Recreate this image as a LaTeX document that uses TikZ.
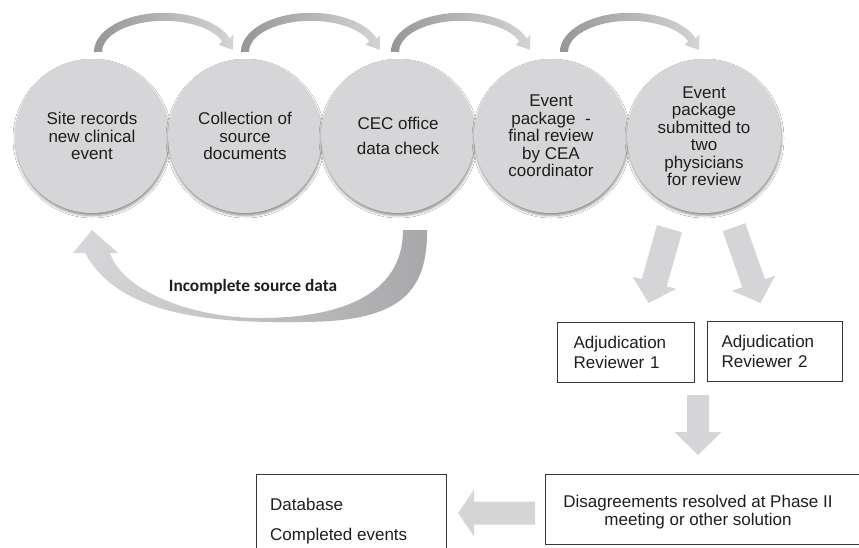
\documentclass[tikz,border=0pt]{standalone}
\usepackage{fontspec}
\setmainfont{Liberation Sans}
\newfontfamily\carlito{Carlito}
\usetikzlibrary{calc,shadows.blur}
\definecolor{circfill}{RGB}{214,214,216}
\definecolor{blockfill}{RGB}{213,213,215}
\definecolor{arcdark}{RGB}{150,150,152}
\definecolor{arclight}{RGB}{212,212,214}
\definecolor{botdark}{RGB}{168,168,170}
\definecolor{botmid}{RGB}{204,204,206}
\definecolor{botlight}{RGB}{216,216,218}
\definecolor{boxline}{RGB}{55,55,55}
\definecolor{txtcol}{RGB}{30,30,30}
\newcommand\toparc[1]{%
  \shade[left color=arcdark, right color=arclight]
    ([shift={(-70,0)}]#1) arc[start angle=180, end angle=20, x radius=70, y radius=39]
    -- ([shift={(69.44,17.06)}]#1) -- ([shift={(68.81,2.08)}]#1)
    -- ([shift={(54.60,6.88)}]#1) -- ([shift={(58.26,10.60)}]#1)
    arc[start angle=20, end angle=180, x radius=62, y radius=31] -- cycle;}
\newcommand\blockarr[5]{%
  \path ($(#2)!#5!(#1)$) coordinate (bah);
  \fill[blockfill] ($(#1)!#3!90:(#2)$) -- ($(bah)!#3!90:(#2)$) -- ($(bah)!#4!90:(#2)$)
    -- (#2) -- ($(bah)!#4!-90:(#2)$) -- ($(bah)!#3!-90:(#2)$) -- ($(#1)!#3!-90:(#2)$) -- cycle;}
\begin{document}
\begin{tikzpicture}[x=1pt, y=1pt,
  circ/.style={circle, fill=circfill, minimum size=154pt, inner sep=0pt, align=center,
    text=txtcol, font=\fontsize{17}{17.5}\selectfont,
    blur shadow={shadow xshift=0.5pt, shadow yshift=-2.5pt, shadow opacity=45, shadow blur radius=2.5pt}},
  box/.style={draw=boxline, line width=1.1pt, rectangle, inner sep=0pt, text=txtcol,
    font=\fontsize{17}{19.5}\selectfont},
  txt/.style={inner sep=0pt, text=txtcol, font=\fontsize{17}{17.5}\selectfont}]
\useasboundingbox (0,0) rectangle (859,-547);
\fill[white] (0,0) rectangle (859,-547);

% circles
\node[circ] (c1) at (92,-136) {Site records\\new clinical\\event};
\node[circ] (c2) at (245,-136) {Collection of\\source\\documents};
\node[circ] (c3) at (398,-136) {CEC office\\[7.5pt]data check};
\node[circ] (c4) at (551,-136) {Event\\package \ -\\final review\\by CEA\\coordinator};
\node[circ] (c5) at (704,-136) {Event\\package\\submitted to\\two\\physicians\\for review};

% top curved arrows
\coordinate (a1) at ($(c1.north)+(72,7)$);
\coordinate (a2) at ($(c2.north)+(66,7)$);
\coordinate (a3) at ($(c3.north)+(63,7)$);
\coordinate (a4) at ($(c4.north)+(79,7)$);
\toparc{a1}
\toparc{a2}
\toparc{a3}
\toparc{a4}

% bottom return arrow
\shade[left color=botlight, middle color=botmid, right color=botdark]
  (403,-230) -- (427,-230)
  .. controls (428,-300) and (390,-322) .. (300,-322)
  .. controls (220,-323) and (120,-318) .. (85,-253)
  -- (73,-253) -- (92,-230) -- (118,-253) -- (110,-253)
  .. controls (122,-290) and (190,-318) .. (260,-318)
  .. controls (340,-318) and (403,-295) .. (403,-230) -- cycle;
\node[inner sep=0pt, text=txtcol, font=\carlito\bfseries\fontsize{17.3}{20}\selectfont] (inc) at (253,-287) {Incomplete source data};

% reviewer boxes
\node[box, anchor=north west, minimum width=137pt, minimum height=60pt, text width=105pt,
  inner xsep=16pt, align=left] (r1) at (557,-322) {Adjudication\\Reviewer 1};
\node[box, anchor=north west, minimum width=135pt, minimum height=60pt, text width=107pt,
  inner xsep=14pt, align=left] (r2) at (707,-321) {Adjudication\\Reviewer 2};

% arrows from circle 5 to reviewers
\coordinate (d1s) at ($(c5.south)+(-34.5,-15.5)$);
\coordinate (d1e) at ($(r1.north)+(22.5,19)$);
\coordinate (d2s) at ($(c5.south)+(30,-14)$);
\coordinate (d2e) at ($(r2.north)+(-14.5,18)$);
\blockarr{d1s}{d1e}{13pt}{22.5pt}{21pt}
\blockarr{d2s}{d2e}{12pt}{23pt}{21pt}

% disagreements box
\node[box, anchor=north west, minimum width=330pt, minimum height=70pt] (dis) at (545,-474) {};
\node[txt, align=center] (distxt) at (698,-512) {Disagreements resolved at Phase II\\meeting or other solution};

% database box
\node[box, anchor=north west, minimum width=190pt, minimum height=90pt] (db) at (256,-474) {};
\node[txt, anchor=base west] (db1) at (270,-510) {Database};
\node[txt, anchor=base west] (db2) at (270,-540) {Completed events};

% arrows between lower boxes
\coordinate (d3s) at (698,-395);
\coordinate (d3e) at (698,-455);
\blockarr{d3s}{d3e}{11pt}{23.5pt}{23pt}
\coordinate (d4s) at ($(dis.west)+(-10,-3.5)$);
\coordinate (d4e) at ($(db.north east)+(11,-39)$);
\blockarr{d4s}{d4e}{11.5pt}{23.5pt}{16pt}
\end{tikzpicture}
\end{document}
